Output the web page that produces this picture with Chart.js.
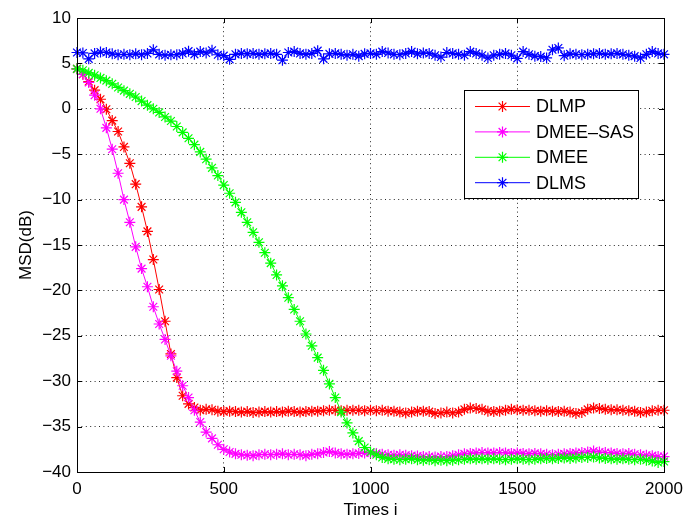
<!DOCTYPE html>
<html>
<head>
<meta charset="utf-8">
<script src="https://cdn.jsdelivr.net/npm/chart.js@4.4.0/dist/chart.umd.min.js"></script>
<style>
  html, body { margin: 0; padding: 0; background: #fff; }
  #grafico { display: block; }
</style>
</head>
<body>
<canvas id="grafico" width="686" height="519"></canvas>
<script>
const times = [
  0, 20, 40, 60, 80, 100, 120, 140, 160, 180,
  200, 220, 240, 260, 280, 300, 320, 340, 360, 380,
  400, 420, 440, 460, 480, 500, 520, 540, 560, 580,
  600, 620, 640, 660, 680, 700, 720, 740, 760, 780,
  800, 820, 840, 860, 880, 900, 920, 940, 960, 980,
  1000, 1020, 1040, 1060, 1080, 1100, 1120, 1140, 1160, 1180,
  1200, 1220, 1240, 1260, 1280, 1300, 1320, 1340, 1360, 1380,
  1400, 1420, 1440, 1460, 1480, 1500, 1520, 1540, 1560, 1580,
  1600, 1620, 1640, 1660, 1680, 1700, 1720, 1740, 1760, 1780,
  1800, 1820, 1840, 1860, 1880, 1900, 1920, 1940, 1960, 1980,
  2000,
];

const dlmp = [
  4.4, 3.8, 3.0, 2.05, 1.05, -0.05, -1.3, -2.5, -4.2, -6.0,
  -8.3, -10.8, -13.5, -16.6, -19.9, -23.4, -27.0, -29.6, -31.6, -32.5,
  -32.9, -33.2, -33.1, -33.15, -33.3, -33.35, -33.3, -33.35, -33.4, -33.35,
  -33.45, -33.4, -33.35, -33.4, -33.35, -33.4, -33.3, -33.35, -33.4, -33.35,
  -33.3, -33.3, -33.25, -33.2, -33.2, -33.25, -33.2, -33.2, -33.2, -33.25,
  -33.2, -33.25, -33.2, -33.3, -33.3, -33.4, -33.5, -33.4, -33.3, -33.3,
  -33.35, -33.55, -33.5, -33.4, -33.5, -33.4, -33.1, -32.95, -33.0, -33.1,
  -33.3, -33.35, -33.3, -33.2, -33.1, -33.15, -33.2, -33.2, -33.25, -33.3,
  -33.25, -33.3, -33.35, -33.3, -33.4, -33.55, -33.45, -33.1, -32.95, -33.0,
  -33.1, -33.15, -33.15, -33.2, -33.25, -33.3, -33.45, -33.4, -33.25, -33.2,
  -33.2,
];

const dmeeSas = [
  4.4, 3.8, 2.9, 1.5, 0.0, -2.1, -4.45, -7.1, -10.0, -12.5,
  -15.2, -17.6, -19.6, -21.8, -23.7, -25.4, -27.2, -28.9, -30.5, -31.8,
  -33.2, -34.5, -35.6, -36.3, -37.0, -37.5, -37.8, -38.0, -38.1, -38.15,
  -38.2, -38.1, -38.05, -38.1, -38.05, -38.0, -38.1, -38.05, -38.1, -38.2,
  -38.05, -38.0, -37.85, -37.75, -37.9, -38.0, -38.05, -38.0, -37.95, -37.9,
  -37.9, -37.95, -38.05, -38.1, -38.15, -38.1, -38.15, -38.2, -38.25, -38.3,
  -38.3, -38.35, -38.3, -38.3, -38.2, -38.1, -38.0, -37.95, -37.9, -37.85,
  -37.9, -37.9, -37.85, -37.9, -37.95, -37.9, -37.95, -38.0, -37.95, -38.0,
  -38.05, -38.1, -38.05, -38.0, -37.95, -37.9, -37.85, -37.8, -37.7, -37.8,
  -37.85, -37.9, -37.95, -38.0, -37.95, -38.05, -38.1, -38.15, -38.2, -38.3,
  -38.3,
];

const dmee = [
  4.4, 4.25, 3.95, 3.7, 3.4, 3.1, 2.75, 2.35, 2.0, 1.65,
  1.3, 0.85, 0.4, 0.0, -0.4, -0.9, -1.35, -1.95, -2.6, -3.25,
  -3.95, -4.75, -5.55, -6.5, -7.35, -8.4, -9.3, -10.3, -11.4, -12.5,
  -13.6, -14.7, -15.85, -17.0, -18.3, -19.5, -20.8, -22.1, -23.4, -24.8,
  -26.1, -27.4, -28.8, -30.3, -31.8, -33.4, -34.6, -35.7, -36.6, -37.3,
  -37.8, -38.1, -38.4, -38.55, -38.6, -38.65, -38.6, -38.55, -38.65, -38.7,
  -38.65, -38.75, -38.7, -38.75, -38.7, -38.65, -38.6, -38.55, -38.6, -38.55,
  -38.6, -38.55, -38.6, -38.65, -38.6, -38.55, -38.6, -38.65, -38.6, -38.55,
  -38.5, -38.55, -38.5, -38.45, -38.5, -38.45, -38.4, -38.4, -38.35, -38.45,
  -38.5, -38.55, -38.6, -38.55, -38.6, -38.65, -38.6, -38.7, -38.8, -38.95,
  -38.85,
];

const dlms = [
  6.2, 6.15, 5.5, 6.1, 6.25, 6.2, 6.05, 5.95, 6.0, 5.95,
  6.05, 5.95, 6.1, 6.5, 6.0, 5.9, 5.95, 5.95, 6.1, 6.35,
  6.0, 6.3, 6.15, 6.45, 5.95, 5.85, 5.45, 6.0, 6.1, 6.05,
  6.1, 6.0, 6.05, 6.1, 6.0, 5.35, 6.2, 6.3, 6.1, 6.0,
  6.1, 6.4, 5.5, 6.05, 6.1, 6.0, 5.9, 6.0, 5.8, 6.05,
  6.1, 6.0, 6.3, 6.15, 6.0, 5.95, 6.1, 6.3, 6.05, 6.15,
  6.1, 5.9, 5.7, 6.2, 6.1, 6.0, 5.9, 6.3, 6.1, 5.9,
  5.6, 5.9, 6.0, 6.1, 5.9, 5.55, 6.3, 6.0, 5.8, 5.75,
  5.6, 6.5, 6.7, 5.85, 6.05, 6.0, 5.95, 6.0, 6.05, 6.1,
  6.0, 6.05, 6.1, 6.0, 5.9, 5.8, 5.6, 6.0, 6.3, 6.1,
  6.0,
];

const seriesNames = ["DLMP", "DMEE\u2013SAS", "DMEE", "DLMS"];
const seriesValues = [dlmp, dmeeSas, dmee, dlms];
const seriesColors = ["#ff0000", "#ff00ff", "#00ff00", "#0000ff"];
const xTicks = [0, 500, 1000, 1500, 2000];
const yTicks = [10, 5, 0, -5, -10, -15, -20, -25, -30, -35, -40];

const fontFamily = "'Liberation Sans', Arial, Helvetica, sans-serif";

function drawStar(ctx, x, y, r) {
  const d = r * Math.SQRT1_2;
  ctx.beginPath();
  ctx.moveTo(x - r, y);
  ctx.lineTo(x + r, y);
  ctx.moveTo(x, y - r);
  ctx.lineTo(x, y + r);
  ctx.moveTo(x - d, y - d);
  ctx.lineTo(x + d, y + d);
  ctx.moveTo(x - d, y + d);
  ctx.lineTo(x + d, y - d);
  ctx.stroke();
}

// frame with inward ticks, like the matlab box
const boxPlugin = {
  id: "box",
  afterDatasetsDraw(chart) {
    const { ctx, chartArea: a, scales } = chart;
    const tl = 5;
    ctx.save();
    ctx.strokeStyle = "#000";
    ctx.lineWidth = 1;
    ctx.strokeRect(a.left + 0.5, a.top + 0.5, a.right - a.left, a.bottom - a.top);
    ctx.beginPath();
    xTicks.forEach((v) => {
      const px = Math.round(scales.x.getPixelForValue(v)) + 0.5;
      ctx.moveTo(px, a.bottom);
      ctx.lineTo(px, a.bottom - tl);
      ctx.moveTo(px, a.top);
      ctx.lineTo(px, a.top + tl);
    });
    yTicks.forEach((v) => {
      const py = Math.round(scales.y.getPixelForValue(v)) + 0.5;
      ctx.moveTo(a.left, py);
      ctx.lineTo(a.left + tl, py);
      ctx.moveTo(a.right, py);
      ctx.lineTo(a.right - tl, py);
    });
    ctx.stroke();
    ctx.restore();
  },
};

const legendPlugin = {
  id: "boxLegend",
  afterDraw(chart) {
    const ctx = chart.ctx;
    const left = 464.5, top = 90.5, w = 174, h = 108;
    ctx.save();
    ctx.fillStyle = "#fff";
    ctx.fillRect(left, top, w, h);
    ctx.strokeStyle = "#000";
    ctx.lineWidth = 1;
    ctx.strokeRect(left, top, w, h);
    ctx.font = "18px " + fontFamily;
    ctx.textBaseline = "middle";
    ctx.textAlign = "left";
    chart.data.datasets.forEach((ds, i) => {
      const y = 106.5 + i * 25.4;
      ctx.strokeStyle = ds.borderColor;
      ctx.lineWidth = 1;
      ctx.beginPath();
      ctx.moveTo(475, y);
      ctx.lineTo(530, y);
      ctx.stroke();
      ctx.lineWidth = 1.2;
      drawStar(ctx, 502.5, y, 5.5);
      ctx.fillStyle = "#000";
      ctx.fillText(ds.label, 536, y + 1);
    });
    ctx.restore();
  },
};

const minus = (v) => String(v).replace("-", "\u2212");

const ctx = document.getElementById("grafico").getContext("2d");
new Chart(ctx, {
  type: "line",
  data: {
    datasets: seriesNames.map((name, i) => ({
      label: name,
      data: times.map((t, k) => ({ x: t, y: seriesValues[i][k] })),
      borderColor: seriesColors[i],
      backgroundColor: seriesColors[i],
      borderWidth: 1,
      pointStyle: "star",
      pointRadius: 5.5,
      pointBorderWidth: 1.2,
      pointBorderColor: seriesColors[i],
      tension: 0,
      fill: false,
      clip: false,
      order: seriesNames.length - i,
    })),
  },
  options: {
    responsive: false,
    animation: false,
    events: [],
    layout: {
      autoPadding: false,
      padding: { top: 18, right: 22, bottom: 0, left: 0 },
    },
    plugins: {
      legend: { display: false },
      tooltip: { enabled: false },
    },
    scales: {
      x: {
        type: "linear",
        min: 0,
        max: 2000,
        afterBuildTicks: (scale) => {
          scale.ticks = xTicks.map((v) => ({ value: v }));
        },
        afterFit: (scale) => {
          scale.height = 47;
          scale.paddingLeft = 0;
          scale.paddingRight = 0;
        },
        ticks: {
          color: "#000",
          padding: 7,
          maxRotation: 0,
          font: { family: fontFamily, size: 17 },
          callback: minus,
        },
        grid: {
          color: "rgba(0,0,0,0.85)",
          lineWidth: 1,
          drawTicks: false,
        },
        border: { display: false, dash: [1, 3.4] },
        title: {
          display: true,
          text: "Times i",
          color: "#000",
          font: { family: fontFamily, size: 17 },
          padding: { top: 0, bottom: -2 },
        },
      },
      y: {
        type: "linear",
        min: -40,
        max: 10,
        afterBuildTicks: (scale) => {
          scale.ticks = yTicks.map((v) => ({ value: v }));
        },
        afterFit: (scale) => {
          scale.width = 77;
          scale.paddingTop = 0;
          scale.paddingBottom = 0;
        },
        ticks: {
          color: "#000",
          padding: 6,
          font: { family: fontFamily, size: 17 },
          callback: minus,
        },
        grid: {
          color: "rgba(0,0,0,0.85)",
          lineWidth: 1,
          drawTicks: false,
        },
        border: { display: false, dash: [1, 3.4] },
        title: {
          display: true,
          text: "MSD(dB)",
          color: "#000",
          font: { family: fontFamily, size: 17 },
          padding: { top: 16, bottom: 0 },
        },
      },
    },
  },
  plugins: [boxPlugin, legendPlugin],
});
</script>
</body>
</html>
